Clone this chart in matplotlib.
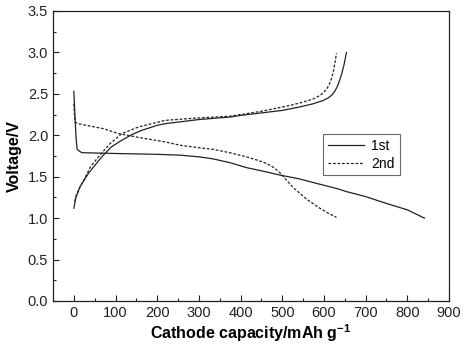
import matplotlib
matplotlib.use("Agg")
import matplotlib.pyplot as plt
from matplotlib.ticker import MultipleLocator, FormatStrFormatter

plt.rcParams['font.family'] = ['Liberation Sans', 'DejaVu Sans']

# 1st cycle
dis1_x = [0, 3, 5.5, 8, 13, 19, 60, 100, 200, 255, 300, 334, 374, 414, 460, 494, 540, 574, 636, 654, 700, 742, 800, 841]
dis1_y = [2.53, 2.2, 1.95, 1.83, 1.81, 1.79, 1.785, 1.78, 1.77, 1.76, 1.74, 1.715, 1.67, 1.61, 1.56, 1.52, 1.475, 1.43, 1.35, 1.32, 1.26, 1.19, 1.10, 1.00]
chg1_x = [0, 5, 15, 35, 67, 90, 115, 140, 163, 200, 219, 300, 374, 400, 450, 500, 540, 574, 598, 610, 620, 627, 633, 638, 643, 648, 654]
chg1_y = [1.12, 1.25, 1.38, 1.54, 1.74, 1.86, 1.94, 2.01, 2.06, 2.12, 2.14, 2.19, 2.22, 2.24, 2.27, 2.30, 2.34, 2.38, 2.42, 2.45, 2.49, 2.54, 2.60, 2.67, 2.75, 2.85, 3.00]

# 2nd cycle
dis2_x = [0, 1.5, 3, 10, 40, 71, 107, 160, 219, 255, 300, 334, 374, 414, 440, 462, 480, 494, 510, 526, 558, 590, 610, 630]
dis2_y = [2.38, 2.25, 2.16, 2.14, 2.11, 2.08, 2.02, 1.97, 1.92, 1.88, 1.85, 1.83, 1.79, 1.74, 1.70, 1.66, 1.61, 1.55, 1.46, 1.37, 1.23, 1.12, 1.06, 1.01]
chg2_x = [2, 6, 15, 24, 40, 59, 87, 115, 155, 219, 300, 374, 400, 450, 518, 550, 575, 590, 600, 608, 614, 619, 623, 626, 630]
chg2_y = [1.20, 1.28, 1.38, 1.46, 1.62, 1.74, 1.90, 2.02, 2.10, 2.18, 2.21, 2.23, 2.25, 2.29, 2.36, 2.40, 2.44, 2.48, 2.52, 2.57, 2.63, 2.70, 2.78, 2.86, 2.99]

labels = ['1st', '2nd']

fig = plt.figure(figsize=(4.67, 3.5), dpi=100)
ax = fig.add_axes([0.1135, 0.14, 0.848, 0.8286])

lw = 0.9
dash = (0, (2.2, 1.4))
ax.plot(dis1_x, dis1_y, color='#222222', lw=lw, ls='-', label=labels[0])
ax.plot(chg1_x, chg1_y, color='#222222', lw=lw, ls='-')
ax.plot(dis2_x, dis2_y, color='#222222', lw=lw, ls=dash, label=labels[1])
ax.plot(chg2_x, chg2_y, color='#222222', lw=lw, ls=dash)

ax.set_xlim(-50, 900)
ax.set_ylim(0, 3.5)
ax.xaxis.set_major_locator(MultipleLocator(100))
ax.xaxis.set_minor_locator(MultipleLocator(50))
ax.yaxis.set_major_locator(MultipleLocator(0.5))
ax.yaxis.set_minor_locator(MultipleLocator(0.25))
ax.yaxis.set_major_formatter(FormatStrFormatter('%.1f'))
ax.tick_params(which='both', direction='in', labelsize=10.5, colors='#222222')
ax.tick_params(which='major', length=4, width=0.8)
ax.tick_params(which='minor', length=2.5, width=0.8)
for s in ax.spines.values():
    s.set_linewidth(0.9)
    s.set_color('#222222')

ax.set_xlabel('Cathode capacity/mAh g$^{\\mathregular{-1}}$', fontsize=11.5, fontweight='bold', labelpad=2)
ax.set_ylabel('Voltage/V', fontsize=11.5, fontweight='bold', labelpad=4)

leg = ax.legend(loc='upper left', bbox_to_anchor=(0.683, 0.575), fontsize=10, frameon=True,
                fancybox=False, handlelength=2.6, borderpad=0.35, labelspacing=0.25,
                handletextpad=0.5, borderaxespad=0)
leg.get_frame().set_edgecolor('#444444')
leg.get_frame().set_linewidth(0.8)

fig.savefig('out.png', dpi=100)
